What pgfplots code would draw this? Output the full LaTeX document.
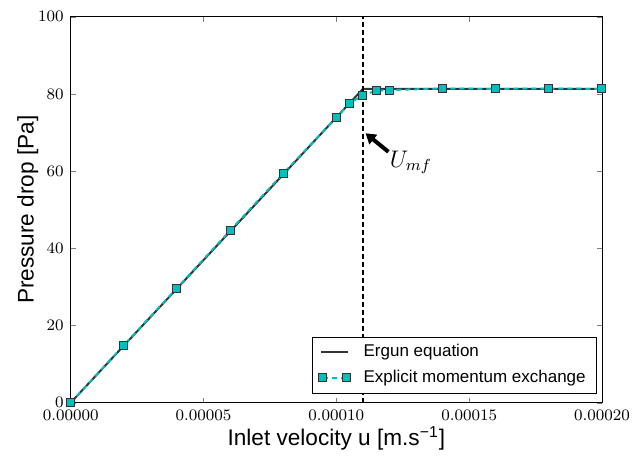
\documentclass[border=0pt]{standalone}
\usepackage{pgfplots}
\pgfplotsset{compat=1.18}
\usepackage[no-math]{fontspec}
\setsansfont{Liberation Sans}
\usetikzlibrary{arrows.meta}
\definecolor{mplc}{rgb}{0,0.75,0.75}
\pgfplotsset{
  mylineleg/.style={legend image code/.code={\draw[##1] (0pt,0pt) -- (13.8pt,0pt);}},
  mymarkleg/.style={legend image code/.code={\draw[##1] plot coordinates {(0.9pt,0pt) (12.9pt,0pt)};}},
}
\begin{document}
\begin{tikzpicture}
\useasboundingbox (-35.35pt,-27.25pt) rectangle (281.65pt,201.35pt);
\begin{axis}[
  scale only axis, width=265.65pt, height=193pt,
  at={(0pt,0pt)}, anchor=south west,
  xmin=0, xmax=0.0002, ymin=0, ymax=100,
  xtick={0,0.00005,0.0001,0.00015,0.0002},
  ytick={0,20,40,60,80,100},
  scaled x ticks=false,
  tick align=inside,
  major tick length=2.5pt,
  xticklabel style={/pgf/number format/fixed, /pgf/number format/precision=5, /pgf/number format/fixed zerofill, font=\fontsize{8.5}{10}\selectfont},
  yticklabel style={font=\fontsize{8.5}{10}\selectfont},
  xlabel={Inlet velocity u [m.s\textsuperscript{−1}]},
  ylabel={Pressure drop [Pa]},
  every axis x label/.style={at={(axis description cs:0.5,-0.1101)}, anchor=base, font=\sffamily\fontsize{11.3}{13}\selectfont},
  every axis y label/.style={at={(axis description cs:-0.070,0.5)}, rotate=90, anchor=base, font=\sffamily\fontsize{11.3}{13}\selectfont},
  legend style={at={(axis description cs:1,0)}, anchor=south east, xshift=-2.65pt, yshift=4.6pt,
    font=\sffamily\fontsize{8.5}{10}\selectfont, draw=black, cells={anchor=west},
    row sep=1.1pt, inner xsep=3.3pt, inner ysep=1.8pt,
    /tikz/every odd column/.append style={column sep=4.5pt}},
  legend cell align=left,
]
\addplot[black!80, line width=1pt, mylineleg]
  coordinates {(0,0) (0.00011,81.3) (0.0002,81.3)};
\addlegendentry{Ergun equation}
\addplot[mplc, line width=1pt, dash pattern=on 2.5pt off 2pt,
  mark=square*, mark size=2pt, mark options={solid, fill=mplc, draw=black!80, line width=0.5pt},
  mymarkleg]
  coordinates {
  (0,0) (0.00002,14.9) (0.00004,29.7) (0.00006,44.6) (0.00008,59.4)
  (0.0001,73.9) (0.000105,77.6) (0.00011,79.7) (0.000115,80.8) (0.00012,81.0)
  (0.00014,81.4) (0.00016,81.3) (0.00018,81.4) (0.0002,81.3)};
\addlegendentry{Explicit momentum exchange}
\addplot[black, line width=1.4pt, dash pattern=on 2.5pt off 1.5pt, forget plot]
  coordinates {(0.00011,0) (0.00011,100)};
\draw[-{Triangle[length=5pt,width=6pt]}, line width=2pt, black]
  (axis cs:0.0001196,65.0) -- (axis cs:0.0001110,69.8);
\node[anchor=west, inner sep=0pt, font=\fontsize{12}{14}\selectfont] at (axis cs:0.0001200,62.3) {$U_{mf}$};
\end{axis}
\end{tikzpicture}
\end{document}
